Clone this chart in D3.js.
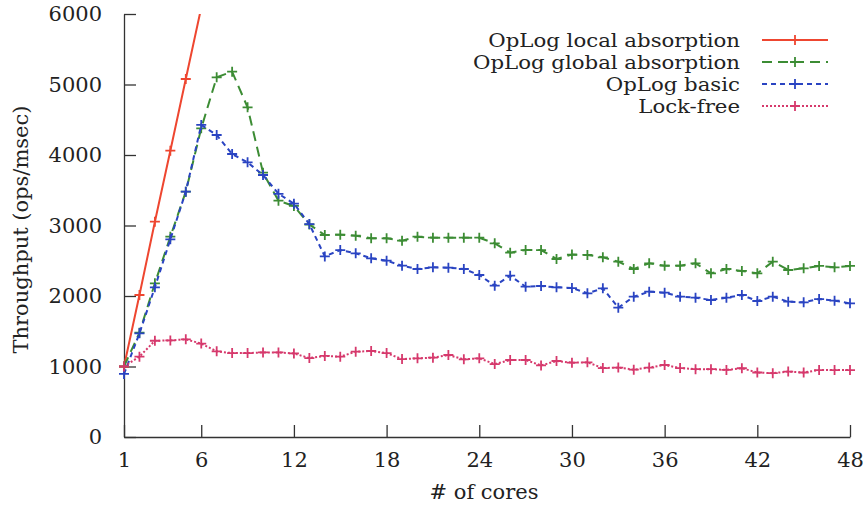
<!DOCTYPE html>
<html>
<head>
<meta charset="utf-8">
<script src="https://cdnjs.cloudflare.com/ajax/libs/d3/7.8.5/d3.min.js"></script>
<style>
  body { margin: 0; background: #fff; }
  text { font-family: "DejaVu Serif", serif; fill: #222; }
</style>
</head>
<body>
<div id="chart-area"></div>
<script>
// data, one value per core count
var cores = d3.range(1, 49)
var tickCores = [1, 6, 12, 18, 24, 30, 36, 42, 48]
var tickThroughput = [0, 1000, 2000, 3000, 4000, 5000, 6000]

var localAbsorption = [1000, 2014, 3054, 4061, 5078, 6090]

var globalAbsorption = [1000, 1480, 2180, 2841, 3480, 4378, 5102, 5182, 4676, 3750,
  3352, 3277, 3014, 2865, 2870, 2856, 2818, 2818, 2785, 2841,
  2827, 2827, 2827, 2827, 2747, 2615, 2652, 2652, 2525, 2587,
  2582, 2549, 2487, 2383, 2464, 2430, 2430, 2464, 2322, 2383,
  2355, 2322, 2487, 2369, 2393, 2426, 2407, 2426]

var basic = [894, 1470, 2123, 2804, 3480, 4426, 4284, 4014, 3896, 3716,
  3450, 3310, 3020, 2562, 2652, 2605, 2535, 2501, 2430, 2383,
  2407, 2402, 2383, 2298, 2146, 2288, 2132, 2142, 2123, 2113,
  2038, 2109, 1834, 1990, 2061, 2047, 1990, 1976, 1943, 1976,
  2014, 1929, 1990, 1919, 1910, 1957, 1933, 1896]

var lockFree = [1000, 1140, 1365, 1370, 1385, 1325, 1215, 1190, 1190, 1200,
  1200, 1185, 1120, 1150, 1140, 1210, 1220, 1190, 1105, 1116,
  1125, 1163, 1102, 1116, 1035, 1092, 1092, 1015, 1078, 1054,
  1059, 978, 985, 955, 985, 1021, 978, 962, 962, 952,
  975, 915, 905, 928, 915, 950, 950, 950]

var seriesNames = ['OpLog local absorption', 'OpLog global absorption', 'OpLog basic', 'Lock-free']
var seriesValues = [localAbsorption, globalAbsorption, basic, lockFree]
var seriesColors = ['#ee4630', '#3c8c34', '#2a44c2', '#d6396c']
var seriesDash = [null, '10,6', '5,4', '2,2']

//SVG with margins
var margin = {left: 124, right: 13, top: 14, bottom: 71}
var W = 863, H = 508
var width = W - margin.left - margin.right
var height = H - margin.top - margin.bottom

var svg = d3.select('#chart-area').append('svg')
  .attr('width', W)
  .attr('height', H)

var group = svg.append('g')
  .attr('transform', 'translate(' + margin.left + ',' + margin.top + ')')

//scales
var xScale = d3.scaleLinear()
  .domain([1, 48])
  .range([0, width])

var yScale = d3.scaleLinear()
  .domain([0, 6000])
  .range([height, 0])

//x axis, ticks pointing inward
var xAxis = d3.axisBottom(xScale)
  .tickValues(tickCores)
  .tickSize(-12)
  .tickSizeOuter(0)
  .tickPadding(15)
  .tickFormat(d3.format('d'))

group.append('g')
  .attr('transform', 'translate(0,' + height + ')')
  .call(xAxis)

//y axis
var yAxis = d3.axisLeft(yScale)
  .tickValues(tickThroughput)
  .tickSize(-12)
  .tickSizeOuter(0)
  .tickPadding(22)
  .tickFormat(d3.format('d'))

group.append('g')
  .call(yAxis)

group.selectAll('.domain, .tick line')
  .attr('stroke', '#333')
  .attr('stroke-width', 1.3)
group.selectAll('.tick text')
  .attr('font-size', '21px')
  .attr('font-family', '"DejaVu Serif", serif')
  .attr('fill', '#222')

//axis titles
group.append('text')
  .attr('x', width / 2 - 3)
  .attr('y', height + 62)
  .attr('font-size', '21px')
  .attr('text-anchor', 'middle')
  .text('# of cores')

group.append('text')
  .attr('transform', 'rotate(-90)')
  .attr('x', -height / 2 - 4)
  .attr('y', -96)
  .attr('font-size', '21px')
  .attr('text-anchor', 'middle')
  .text('Throughput (ops/msec)')

//clip the lines to the plot area
svg.append('defs').append('clipPath')
  .attr('id', 'plot-clip')
  .append('rect')
  .attr('x', -8)
  .attr('y', 0)
  .attr('width', width + 16)
  .attr('height', height + 10)

var plot = group.append('g').attr('clip-path', 'url(#plot-clip)')

var line = d3.line()
  .x(function(d, i) { return xScale(cores[i]) })
  .y(function(d) { return yScale(d) })

var crossSize = 5

seriesValues.forEach(function(vals, s) {
  var sg = plot.append('g')
  sg.append('path')
    .datum(vals)
    .attr('d', line)
    .attr('fill', 'none')
    .attr('stroke', seriesColors[s])
    .attr('stroke-width', 2)
    .attr('stroke-dasharray', seriesDash[s])

  //plus markers
  sg.selectAll('path.mark')
    .data(vals)
    .enter()
    .append('path')
    .attr('class', 'mark')
    .attr('d', function(d, i) {
      var x = xScale(cores[i]), y = yScale(d)
      return 'M' + (x - crossSize) + ',' + y + 'H' + (x + crossSize) +
        'M' + x + ',' + (y - crossSize) + 'V' + (y + crossSize)
    })
    .attr('stroke', seriesColors[s])
    .attr('stroke-width', 1.8)
})

//LEGEND
var legend = svg.append('g')
var rowY = [40, 62, 84, 106]

seriesNames.forEach(function(name, s) {
  // text is a bit stretched sideways like the scanned original
  legend.append('g')
    .attr('transform', 'translate(740,' + rowY[s] + ') scale(1.12,1)')
    .append('text')
    .attr('x', 0)
    .attr('y', 0)
    .attr('dy', '0.35em')
    .attr('font-size', '19px')
    .attr('text-anchor', 'end')
    .text(name)

  legend.append('line')
    .attr('x1', 762)
    .attr('x2', 828)
    .attr('y1', rowY[s])
    .attr('y2', rowY[s])
    .attr('stroke', seriesColors[s])
    .attr('stroke-width', 2)
    .attr('stroke-dasharray', seriesDash[s])

  legend.append('path')
    .attr('d', 'M790,' + rowY[s] + 'H800M795,' + (rowY[s] - 5) + 'V' + (rowY[s] + 5))
    .attr('stroke', seriesColors[s])
    .attr('stroke-width', 1.8)
})
</script>
</body>
</html>
